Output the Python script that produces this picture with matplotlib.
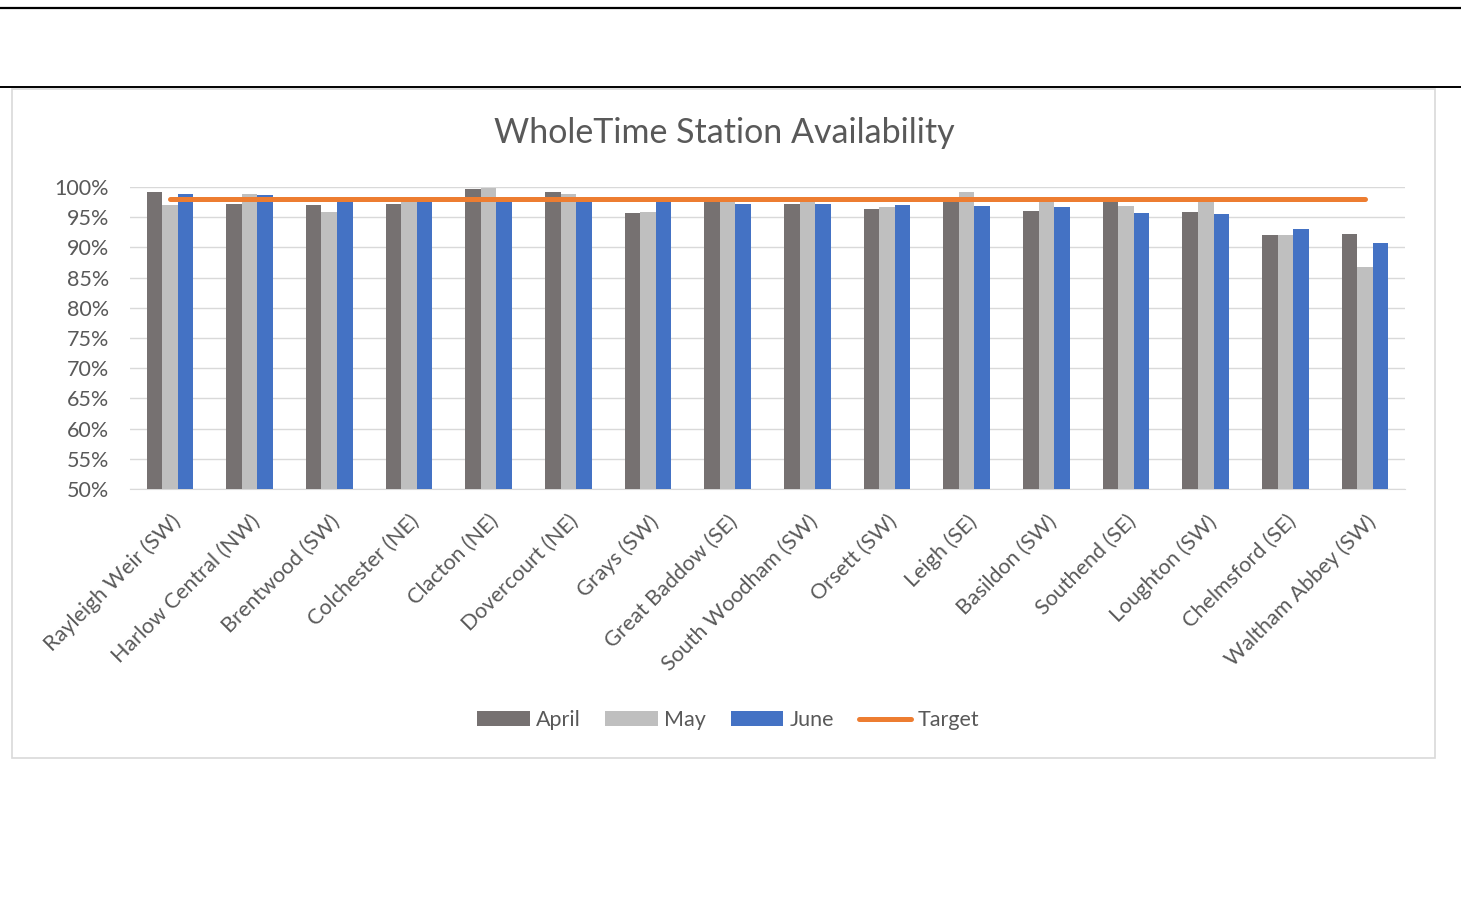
import numpy as np
import matplotlib.pyplot as plt
from matplotlib.patches import Rectangle
from matplotlib.lines import Line2D
from matplotlib.ticker import PercentFormatter

plt.rcParams['font.family'] = ['Lato', 'DejaVu Sans']

stations = ['Rayleigh Weir (SW)', 'Harlow Central (NW)', 'Brentwood (SW)', 'Colchester (NE)',
            'Clacton (NE)', 'Dovercourt (NE)', 'Grays (SW)', 'Great Baddow (SE)',
            'South Woodham (SW)', 'Orsett (SW)', 'Leigh (SE)', 'Basildon (SW)',
            'Southend (SE)', 'Loughton (SW)', 'Chelmsford (SE)', 'Waltham Abbey (SW)']
april = [99.1, 97.2, 97.1, 97.2, 99.6, 99.2, 95.7, 98.0, 97.2, 96.4, 98.0, 96.0, 98.0, 95.8, 92.0, 92.2]
may = [97.1, 98.8, 95.9, 98.0, 99.9, 98.8, 95.8, 98.0, 98.0, 96.7, 99.1, 97.9, 96.9, 97.8, 92.0, 86.8]
june = [98.8, 98.6, 97.8, 97.9, 97.7, 97.8, 97.5, 97.2, 97.2, 97.0, 96.8, 96.7, 95.7, 95.5, 93.0, 90.8]
target = [98.0] * len(stations)

txt = '#595959'
fig = plt.figure(figsize=(14.61, 8.99), dpi=100)
W, H = 1461, 899

# page lines and chart frame
fig.add_artist(Line2D([0, 1], [1 - 8 / H, 1 - 8 / H], color='black', lw=1.6))
fig.add_artist(Line2D([0, 1], [1 - 87 / H, 1 - 87 / H], color='black', lw=1.4))
fig.add_artist(Rectangle((12 / W, 1 - 758 / H), (1435 - 12) / W, (758 - 89) / H,
                         fill=False, edgecolor='#D9D9D9', lw=1.2))

ax = fig.add_axes([130 / W, 1 - 489 / H, (1405 - 130) / W, (489 - 187) / H])
x = np.arange(len(stations))
bw = 0.195
ax.bar(x - bw, april, bw, color='#767171', label='April', zorder=3)
ax.bar(x, may, bw, color='#BFBFBF', label='May', zorder=3)
ax.bar(x + bw, june, bw, color='#4472C4', label='June', zorder=3)
tline, = ax.plot(x, target, color='#ED7D31', lw=3.6, solid_capstyle='round', label='Target', zorder=4)

ax.set_ylim(50, 100)
ax.set_xlim(-0.5, len(stations) - 0.5)
ax.set_yticks(np.arange(50, 101, 5))
ax.yaxis.set_major_formatter(PercentFormatter(decimals=0))
ax.grid(axis='y', color='#D9D9D9', lw=1, zorder=0)
for s in ['top', 'right', 'left']:
    ax.spines[s].set_visible(False)
ax.spines['bottom'].set_color('#D9D9D9')
ax.tick_params(axis='both', length=0, labelsize=15.5, labelcolor=txt)
ax.tick_params(axis='y', pad=15)
ax.set_xticks(x)
ax.set_xticklabels(stations, rotation=45, ha='right', va='top', rotation_mode='anchor')
ax.tick_params(axis='x', pad=16)

fig.text(724 / W, 1 - 133 / H, 'WholeTime Station Availability', ha='center', va='center',
         fontsize=24.5, color=txt)

handles, labels = ax.get_legend_handles_labels()
order = [labels.index(l) for l in ['April', 'May', 'June', 'Target']]
ax.legend([handles[i] for i in order], [labels[i] for i in order],
          loc='center', bbox_to_anchor=(728 / W, 1 - 720 / H), bbox_transform=fig.transFigure,
          ncol=4, frameon=False, fontsize=15.5, labelcolor=txt, handlelength=2.45, handleheight=0.65,
          columnspacing=1.15, handletextpad=0.28)

fig.savefig('out.png', dpi=100)
